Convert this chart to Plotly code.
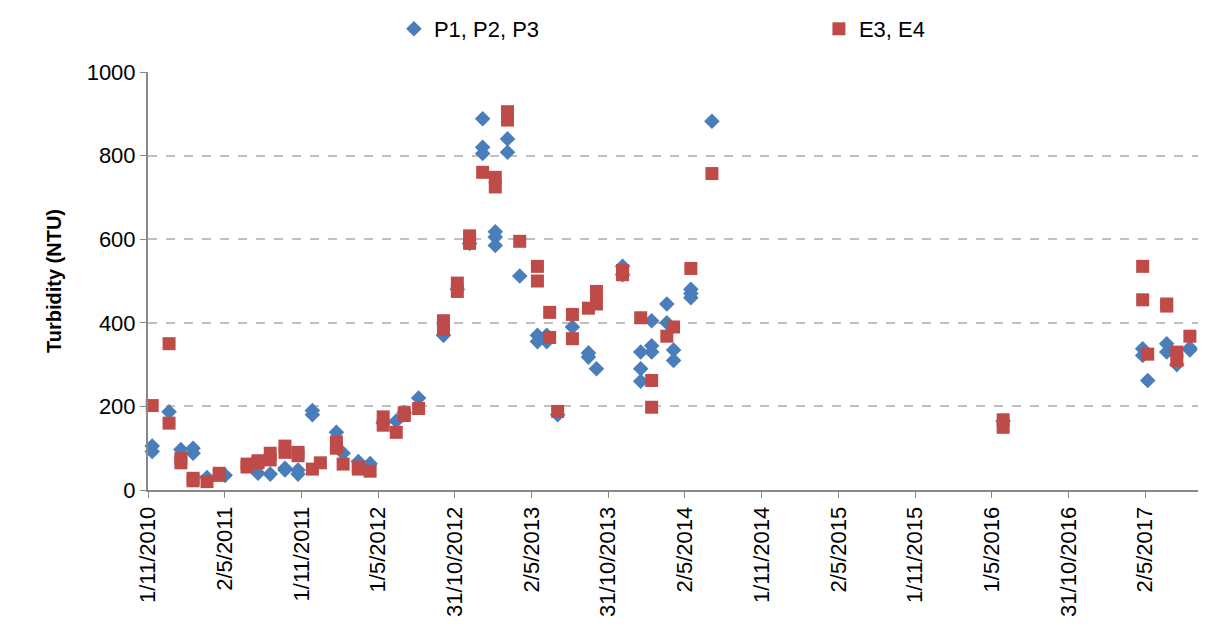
import plotly.graph_objects as go

p_dates = ["2010-11-11", "2010-11-11", "2010-12-21", "2011-01-18", "2011-02-16", "2011-02-16",
           "2011-03-21", "2011-05-03", "2011-07-20", "2011-08-18", "2011-09-22", "2011-09-22",
           "2011-10-23", "2011-10-23", "2011-11-26", "2011-11-26", "2012-01-22", "2012-02-07",
           "2012-03-14", "2012-04-11", "2012-05-12", "2012-06-12", "2012-07-01", "2012-08-04",
           "2012-10-02", "2012-11-04", "2012-12-03", "2013-01-03", "2013-01-03", "2013-01-03",
           "2013-02-02", "2013-02-02", "2013-02-02", "2013-03-03", "2013-03-03", "2013-04-01",
           "2013-05-13", "2013-05-13", "2013-06-04", "2013-06-04", "2013-06-30", "2013-08-04",
           "2013-09-11", "2013-09-11", "2013-09-30", "2013-12-01", "2013-12-01", "2014-01-13",
           "2014-01-13", "2014-01-13", "2014-02-08", "2014-02-08", "2014-02-08", "2014-03-16",
           "2014-03-16", "2014-04-01", "2014-04-01", "2014-05-12", "2014-05-12", "2014-05-12",
           "2014-07-01", "2016-05-22", "2017-04-18", "2017-04-18", "2017-04-30", "2017-06-14",
           "2017-06-14", "2017-07-08", "2017-08-08", "2017-08-08"]
p_vals = [105, 92, 187, 97, 100, 88,
          30, 35, 40, 38, 52, 48,
          48, 38, 190, 180, 138, 88,
          68, 63, 160, 165, 185, 220,
          370, 480, 590, 888, 820, 805,
          618, 605, 585, 840, 808, 512,
          370, 355, 370, 355, 180, 390,
          328, 318, 290, 535, 515, 330,
          290, 260, 405, 345, 330, 445,
          400, 335, 310, 480, 470, 460,
          882, 165, 338, 322, 262, 350,
          330, 300, 340, 335]

e_dates = ["2010-11-11", "2010-12-21", "2010-12-21", "2011-01-18", "2011-01-18", "2011-02-16",
           "2011-02-16", "2011-03-21", "2011-04-19", "2011-04-19", "2011-06-24", "2011-06-24",
           "2011-07-20", "2011-07-20", "2011-08-18", "2011-08-18", "2011-09-22", "2011-09-22",
           "2011-10-23", "2011-10-23", "2011-11-26", "2011-12-15", "2012-01-22", "2012-01-22",
           "2012-02-07", "2012-03-14", "2012-03-14", "2012-04-11", "2012-05-12", "2012-05-12",
           "2012-06-12", "2012-07-01", "2012-07-01", "2012-08-04", "2012-10-02", "2012-10-02",
           "2012-11-04", "2012-11-04", "2012-12-03", "2012-12-03", "2013-01-03", "2013-02-02",
           "2013-02-02", "2013-03-03", "2013-03-03", "2013-04-01", "2013-05-13", "2013-05-13",
           "2013-06-11", "2013-06-11", "2013-06-30", "2013-08-04", "2013-08-04", "2013-09-11",
           "2013-09-30", "2013-09-30", "2013-12-01", "2013-12-01", "2014-01-13", "2014-02-08",
           "2014-02-08", "2014-03-16", "2014-04-01", "2014-05-12", "2014-07-01", "2016-05-22",
           "2016-05-22", "2017-04-18", "2017-04-18", "2017-04-30", "2017-06-14", "2017-06-14",
           "2017-07-08", "2017-07-08", "2017-08-08"]
e_vals = [202, 350, 160, 75, 65, 28,
          22, 20, 40, 35, 62, 55,
          70, 65, 88, 72, 105, 90,
          90, 82, 50, 65, 115, 100,
          62, 55, 50, 45, 175, 155,
          138, 185, 178, 195, 405, 385,
          495, 475, 608, 590, 760, 748,
          725, 905, 885, 595, 535, 500,
          425, 365, 188, 420, 362, 435,
          475, 445, 525, 515, 412, 262,
          198, 368, 390, 530, 757, 168,
          150, 535, 455, 325, 445, 440,
          330, 310, 368]

tick_vals = ["2010-11-01", "2011-05-02", "2011-10-31", "2012-04-30", "2012-10-29", "2013-04-29",
             "2013-10-28", "2014-04-28", "2014-10-27", "2015-04-27", "2015-10-26", "2016-04-25",
             "2016-10-24", "2017-04-24"]
tick_text = ["1/11/2010", "2/5/2011", "1/11/2011", "1/5/2012", "31/10/2012", "2/5/2013",
             "31/10/2013", "2/5/2014", "1/11/2014", "2/5/2015", "1/11/2015", "1/5/2016",
             "31/10/2016", "2/5/2017"]

fig = go.Figure()
fig.add_trace(go.Scatter(x=p_dates, y=p_vals, mode="markers", name="P1, P2, P3", cliponaxis=False,
                         marker=dict(symbol="diamond", size=12, color="#4a7ebb")))
fig.add_trace(go.Scatter(x=e_dates, y=e_vals, mode="markers", name="E3, E4", cliponaxis=False,
                         marker=dict(symbol="square", size=13, color="#be4b48")))

fig.update_layout(
    width=1206, height=641,
    margin=dict(l=140, r=14, t=64, b=159),
    plot_bgcolor="white", paper_bgcolor="white",
    font=dict(family="Liberation Sans, Arial", size=21, color="#000"),
    legend=dict(orientation="h", xref="container", yref="container", x=0.32, xanchor="left",
                y=1.0, yanchor="top", font=dict(size=22),
                entrywidthmode="pixels", entrywidth=380),
    xaxis=dict(type="date", range=["2010-11-01", "2017-09-01"], tickvals=tick_vals,
               ticktext=tick_text, tickangle=-90, showgrid=False, showline=True,
               linecolor="#888", linewidth=2, ticks="outside", tickcolor="#888", ticklen=6,
               automargin=False, tickfont=dict(size=22)),
    yaxis=dict(range=[0, 1000], dtick=200, showgrid=True, gridcolor="#c0c0c0", griddash="dash",
               gridwidth=1.5, showline=True, linecolor="#888", linewidth=2, ticks="outside",
               tickcolor="#888", ticklen=6, zeroline=False, automargin=False,
               tickfont=dict(size=22),
               title=dict(text="<b>Turbidity (NTU)</b>", font=dict(size=20), standoff=20)),
)

fig.write_html("out.html")
